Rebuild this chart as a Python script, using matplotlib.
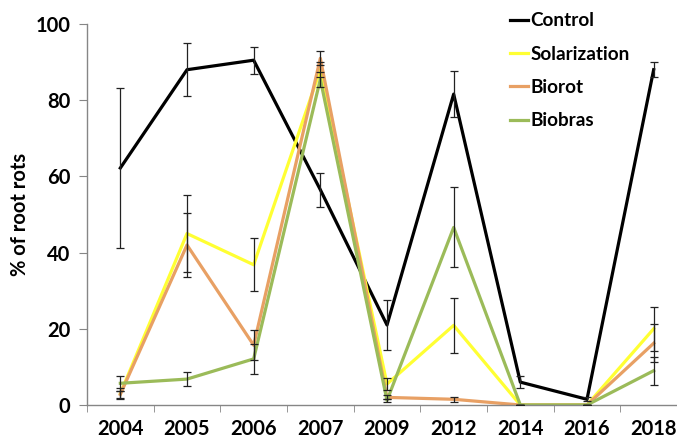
import matplotlib.pyplot as plt
import numpy as np

years = ["2004", "2005", "2006", "2007", "2009", "2012", "2014", "2016", "2018"]

control = [62.2, 88.0, 90.5, 56.5, 21.0, 81.6, 6.0, 1.5, 88.0]
control_err = [21.0, 7.0, 3.5, 4.5, 6.5, 6.0, 1.5, 0.5, 2.0]

solarization = [3.0, 45.0, 36.8, 88.0, 5.5, 20.9, 0.0, 0.0, 20.0]
solarization_err = [1.5, 10.0, 7.0, 2.0, 1.5, 7.3, 0.0, 0.0, 5.8]

biorot = [2.8, 42.0, 15.7, 91.0, 2.0, 1.5, 0.0, 0.0, 16.2]
biorot_err = [1.0, 8.5, 4.0, 1.8, 0.5, 0.6, 0.0, 0.0, 5.0]

biobras = [5.7, 6.8, 12.1, 85.5, 1.2, 46.6, 0.0, 0.0, 9.0]
biobras_err = [2.0, 1.8, 4.0, 2.0, 0.5, 10.5, 0.0, 0.0, 3.7]

series = [
    ("Control", control, control_err, "#000000"),
    ("Solarization", solarization, solarization_err, "#FFFF33"),
    ("Biorot", biorot, biorot_err, "#E8A064"),
    ("Biobras", biobras, biobras_err, "#9BBB59"),
]

plt.rcParams["font.family"] = ["Lato", "DejaVu Sans"]
plt.rcParams["font.weight"] = "bold"

fig = plt.figure(figsize=(6.77, 4.41), dpi=100)
ax = fig.add_axes([87 / 677, 1 - 405 / 441, 600 / 677, (405 - 24) / 441])

x = np.arange(len(years))
for name, vals, errs, color in series:
    ax.errorbar(x, vals, yerr=errs, fmt="none", ecolor="#222222",
                elinewidth=0.9, capsize=3, capthick=0.9, zorder=3)
for name, vals, errs, color in series:
    ax.plot(x, vals, color=color, linewidth=2.3, label=name, zorder=2)

ax.set_xlim(-0.5, len(years) - 0.5)
ax.set_ylim(0, 100)
ax.set_yticks(range(0, 101, 20))
ax.set_xticks(x)
ax.set_xticklabels(years, fontsize=14.5, fontweight="bold")
ax.set_xticks(np.arange(-0.5, len(years), 1), minor=True)
ax.tick_params(axis="x", which="major", length=0, pad=10)
ax.tick_params(axis="x", which="minor", length=5, color="#868686")
ax.tick_params(axis="y", length=6, color="#868686", labelsize=14.5, pad=6)
for lab in ax.get_yticklabels():
    lab.set_fontweight("bold")

for s in ["top", "right"]:
    ax.spines[s].set_visible(False)
for s in ["left", "bottom"]:
    ax.spines[s].set_color("#868686")
    ax.spines[s].set_linewidth(1.0)

ax.set_ylabel("% of root rots", fontsize=14.5, fontweight="bold", labelpad=4)

ax.legend(loc="upper left", bbox_to_anchor=(0.676, 1.075), frameon=False,
          handlelength=1.0, handletextpad=0.1, labelspacing=0.86,
          prop={"weight": "bold", "size": 13.6})

fig.savefig("out.png", dpi=100)
